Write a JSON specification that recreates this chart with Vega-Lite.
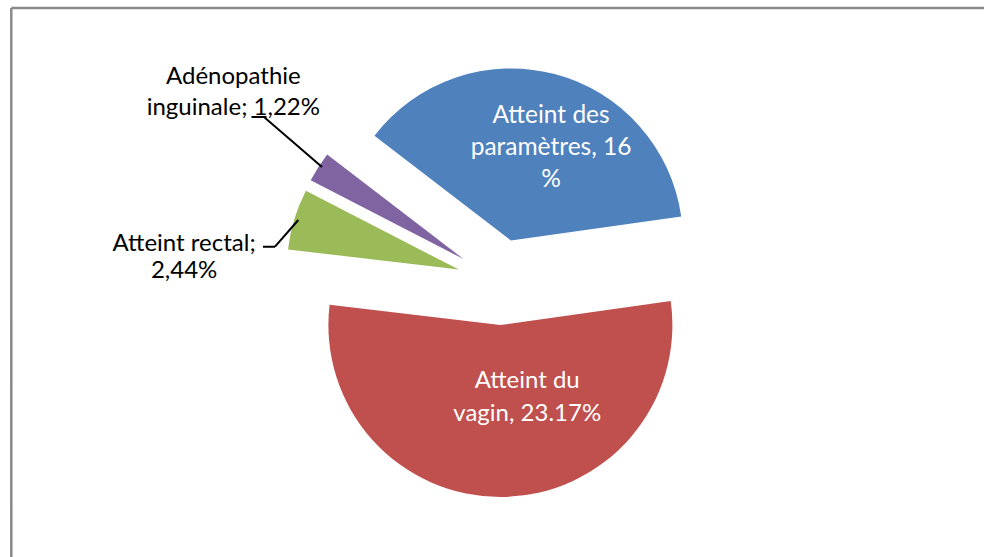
{
  "$schema": "https://vega.github.io/schema/vega-lite/v6.json",
  "autosize": {"type": "none"},
  "width": 973,
  "height": 549,
  "padding": {"left": 11, "top": 8, "right": 0, "bottom": 0},
  "background": "white",
  "view": {"stroke": null},
  "config": {"view": {"stroke": null}},
  "data": {"values": [
    {"cat": "Atteint des paramètres", "value": 16, "order": 1, "label": "Atteint des\nparamètres, 16\n%"},
    {"cat": "Atteint du vagin", "value": 23.17, "order": 2, "label": "Atteint du\nvagin, 23.17%"},
    {"cat": "Atteint rectal", "value": 2.44, "order": 3, "label": "Atteint rectal;\n2,44%"},
    {"cat": "Adénopathie inguinale", "value": 1.22, "order": 4, "label": "Adénopathie\ninguinale; 1,22%"}
  ]},
  "transform": [
    {"stack": "value", "groupby": [], "sort": [{"field": "order", "order": "ascending"}], "as": ["v0", "v1"]},
    {"calculate": "(datum.v0 + datum.v1) / 2", "as": "mid"}
  ],
  "layer": [
    {
      "transform": [{"filter": "datum.order === 1"}],
      "mark": {"type": "arc", "theta": 1.5708, "theta2": 1.5708, "radius": 980, "radius2": 0, "fill": null, "stroke": "#8a8a8a", "strokeWidth": 2.5, "xOffset": -486.2, "yOffset": -274.5},
      "encoding": {}
    },
    {
      "transform": [{"filter": "datum.order === 1"}],
      "mark": {"type": "arc", "theta": 3.1416, "theta2": 3.1416, "radius": 560, "radius2": 0, "fill": null, "stroke": "#8a8a8a", "strokeWidth": 2.5, "xOffset": -486.2, "yOffset": -274.5},
      "encoding": {}
    },
    {
      "transform": [{"filter": "datum.order === 1"}],
      "mark": {"type": "arc", "radius": 172, "fill": "#4F81BD", "xOffset": 13.4, "yOffset": -42.1},
      "encoding": {
        "theta": {"field": "v0", "type": "quantitative", "stack": null, "scale": {"domain": [0, 42.83], "range": [-0.916, 5.367]}},
        "theta2": {"field": "v1"}
      }
    },
    {
      "transform": [{"filter": "datum.order === 2"}],
      "mark": {"type": "arc", "radius": 172, "fill": "#C0504D", "xOffset": 2.9, "yOffset": 42.5},
      "encoding": {
        "theta": {"field": "v0", "type": "quantitative", "stack": null, "scale": {"domain": [0, 42.83], "range": [-0.916, 5.367]}},
        "theta2": {"field": "v1"}
      }
    },
    {
      "transform": [{"filter": "datum.order === 3"}],
      "mark": {"type": "arc", "radius": 172, "fill": "#9BBB59", "xOffset": -38.7, "yOffset": -12.9},
      "encoding": {
        "theta": {"field": "v0", "type": "quantitative", "stack": null, "scale": {"domain": [0, 42.83], "range": [-0.916, 5.367]}},
        "theta2": {"field": "v1"}
      }
    },
    {
      "transform": [{"filter": "datum.order === 4"}],
      "mark": {"type": "arc", "radius": 172, "fill": "#8064A2", "xOffset": -33.9, "yOffset": -23.4},
      "encoding": {
        "theta": {"field": "v0", "type": "quantitative", "stack": null, "scale": {"domain": [0, 42.83], "range": [-0.916, 5.367]}},
        "theta2": {"field": "v1"}
      }
    },
    {
      "transform": [{"filter": "datum.order === 4"}],
      "mark": {"type": "arc", "theta": -0.859, "theta2": -0.859, "radius": 76.6, "radius2": 0, "fill": null, "stroke": "black", "strokeWidth": 2, "xOffset": -175.5, "yOffset": -115.5},
      "encoding": {}
    },
    {
      "transform": [{"filter": "datum.order === 4"}],
      "mark": {"type": "arc", "theta": -1.5708, "theta2": -1.5708, "radius": 15, "radius2": 0, "fill": null, "stroke": "black", "strokeWidth": 2, "xOffset": -231, "yOffset": -165.5},
      "encoding": {}
    },
    {
      "transform": [{"filter": "datum.order === 3"}],
      "mark": {"type": "arc", "theta": -2.424, "theta2": -2.424, "radius": 35.4, "radius2": 0, "fill": null, "stroke": "black", "strokeWidth": 2, "xOffset": -199.2, "yOffset": -62.5},
      "encoding": {}
    },
    {
      "transform": [{"filter": "datum.order === 3"}],
      "mark": {"type": "arc", "theta": -1.5708, "theta2": -1.5708, "radius": 12, "radius2": 0, "fill": null, "stroke": "black", "strokeWidth": 2, "xOffset": -222.5, "yOffset": -35.8},
      "encoding": {}
    },
    {
      "transform": [{"filter": "datum.order === 1"}],
      "mark": {"type": "text", "radius": 140, "font": "Lato", "fontSize": 24.5, "lineHeight": 32, "lineBreak": "\n", "color": "white", "align": "center", "baseline": "middle", "xOffset": 17.9, "yOffset": -31.5},
      "encoding": {
        "theta": {"field": "mid", "type": "quantitative", "stack": null, "scale": {"domain": [0, 42.83], "range": [-0.916, 5.367]}},
        "text": {"field": "label"}
      }
    },
    {
      "transform": [{"filter": "datum.order === 2"}],
      "mark": {"type": "text", "radius": 110, "font": "Lato", "fontSize": 24, "lineHeight": 33, "lineBreak": "\n", "color": "white", "align": "center", "baseline": "middle", "xOffset": 28.5, "yOffset": -11.5},
      "encoding": {
        "theta": {"field": "mid", "type": "quantitative", "stack": null, "scale": {"domain": [0, 42.83], "range": [-0.916, 5.367]}},
        "text": {"field": "label"}
      }
    },
    {
      "transform": [{"filter": "datum.order === 3"}],
      "mark": {"type": "text", "radius": 300, "font": "Lato", "fontSize": 24, "lineHeight": 27, "lineBreak": "\n", "color": "black", "align": "center", "baseline": "middle", "xOffset": -26.5, "yOffset": 49.5},
      "encoding": {
        "theta": {"field": "mid", "type": "quantitative", "stack": null, "scale": {"domain": [0, 42.83], "range": [-0.916, 5.367]}},
        "text": {"field": "label"}
      }
    },
    {
      "transform": [{"filter": "datum.order === 4"}],
      "mark": {"type": "text", "radius": 300, "font": "Lato", "fontSize": 24, "lineHeight": 31, "lineBreak": "\n", "color": "black", "align": "center", "baseline": "middle", "xOffset": -10.8, "yOffset": -44.5},
      "encoding": {
        "theta": {"field": "mid", "type": "quantitative", "stack": null, "scale": {"domain": [0, 42.83], "range": [-0.916, 5.367]}},
        "text": {"field": "label"}
      }
    }
  ]
}
